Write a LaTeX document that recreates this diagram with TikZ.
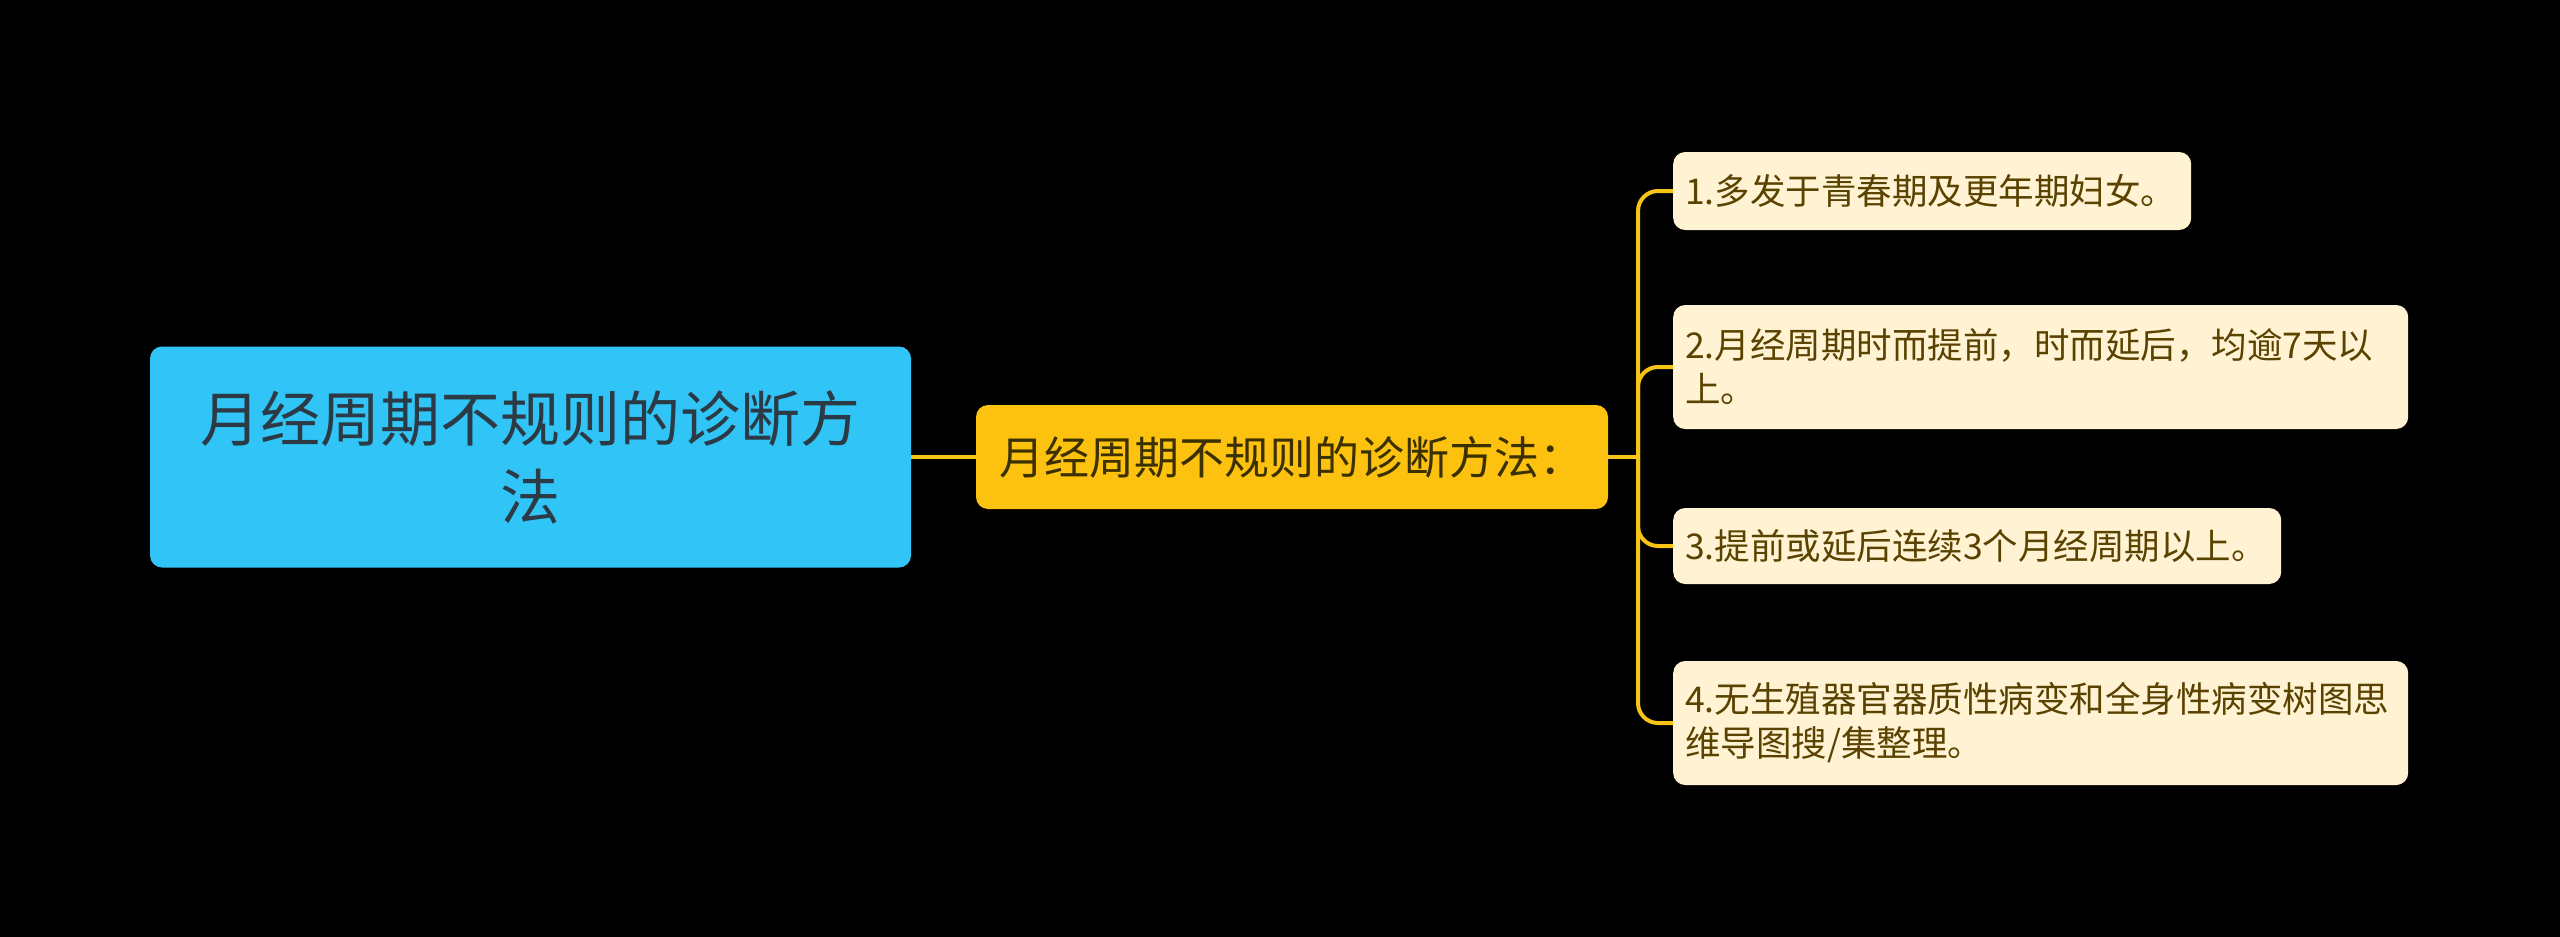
\documentclass[tikz,border=0pt]{standalone}
\usepackage{fontspec}
\setmainfont{Noto Sans CJK SC}
\definecolor{rootfill}{HTML}{30C5F6}
\definecolor{roottext}{HTML}{2B3A44}
\definecolor{midfill}{HTML}{FDC10F}
\definecolor{midtext}{HTML}{3A3000}
\definecolor{leaffill}{HTML}{FFF3D3}
\definecolor{leaftext}{HTML}{5A4200}
\definecolor{linecol}{HTML}{F6C317}
\tikzset{
  rootbox/.style={fill=rootfill, text=roottext, rounded corners=12pt, minimum width=761pt, minimum height=221pt, align=center, inner sep=0pt, font=\fontsize{60}{78}\selectfont},
  midbox/.style={fill=midfill, text=midtext, rounded corners=12pt, minimum width=632pt, minimum height=104pt, inner sep=0pt, font=\fontsize{45}{56}\selectfont},
  leafbox/.style={fill=leaffill, text=leaftext, rounded corners=12pt, anchor=west, align=left, inner xsep=12pt, inner ysep=0pt, font=\fontsize{35.5}{44}\selectfont},
  conn/.style={draw=linecol, line width=4pt, rounded corners=20pt}
}
\begin{document}
\begin{tikzpicture}[x=1pt,y=-1pt]
\useasboundingbox[fill=black] (0,0) rectangle (2560,937);
\node[rootbox] (root) at (530.5,457) {月经周期不规则的诊断方\\法};
\node[midbox] (mid) at (1292,457) {月经周期不规则的诊断方法：};
\node[leafbox, text width=494pt, minimum height=78pt] (l1) at (1673,191) {1.多发于青春期及更年期妇女。};
\node[leafbox, text width=711pt, minimum height=124pt] (l2) at (1673,367) {2.月经周期时而提前，时而延后，均逾7天以\\上。};
\node[leafbox, text width=584pt, minimum height=76pt] (l3) at (1673,546) {3.提前或延后连续3个月经周期以上。};
\node[leafbox, text width=711pt, minimum height=124pt] (l4) at (1673,723) {4.无生殖器官器质性病变和全身性病变树图思\\维导图搜/集整理。};
\coordinate (j) at (1638,457);
\draw[draw=linecol, line width=4pt] (root.east) -- (mid.west);
\draw[draw=linecol, line width=4pt] (mid.east) -- (j);
\foreach \n in {l1,l2,l3,l4} { \draw[conn] (j) |- (\n.west); }
\end{tikzpicture}
\end{document}
